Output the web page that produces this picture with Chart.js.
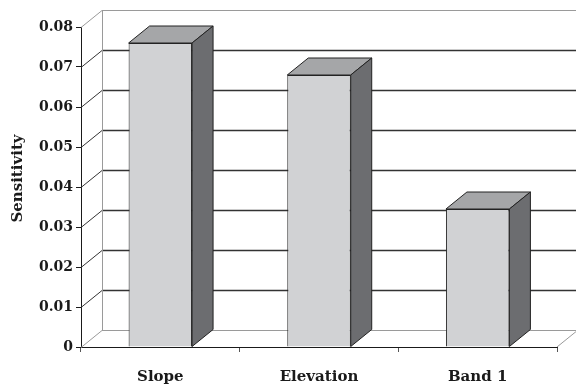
<!DOCTYPE html>
<html>
<head>
<meta charset="utf-8">
<script src="https://cdn.jsdelivr.net/npm/chart.js@4"></script>
<style>
  html, body { margin: 0; padding: 0; background: #fff; }
</style>
</head>
<body>
<canvas id="chart" width="576" height="386"></canvas>
<script>
const categories = ['Slope', 'Elevation', 'Band 1'];
const sensitivity = [0.076, 0.068, 0.0345];
const yTickLabels = ['0', '0.01', '0.02', '0.03', '0.04', '0.05', '0.06', '0.07', '0.08'];
const yAxisTitle = 'Sensitivity';

// depth of the 3D box: how far the back wall is shifted right / up
const DEPTH_X = 21;
const DEPTH_Y = 17;

const FONT = 'DejaVu Serif';

function line(ctx, x1, y1, x2, y2) {
    ctx.beginPath();
    ctx.moveTo(x1, y1);
    ctx.lineTo(x2, y2);
    ctx.stroke();
}

// walls, floor and back gridlines, drawn under the bars
const box3d = {
    id: 'box3d',
    beforeDatasetsDraw(chart) {
        const { ctx, chartArea: a, scales: { y } } = chart;
        const backL = a.left + DEPTH_X;
        const backR = a.right + DEPTH_X;
        ctx.save();
        y.ticks.forEach((t, i) => {
            const py = Math.round(y.getPixelForValue(t.value)) + 0.5;
            const edge = i === 0 || i === y.ticks.length - 1;
            ctx.strokeStyle = edge ? '#9a9a9a' : '#333';
            ctx.lineWidth = edge ? 1 : 1.3;
            line(ctx, backL, py - DEPTH_Y, backR, py - DEPTH_Y);
            ctx.lineWidth = 1;
            line(ctx, a.left, py, backL, py - DEPTH_Y);
        });
        ctx.strokeStyle = '#9a9a9a';
        line(ctx, backL + 0.5, a.top - DEPTH_Y, backL + 0.5, a.bottom - DEPTH_Y);
        line(ctx, a.right, a.bottom, backR, a.bottom - DEPTH_Y);
        ctx.restore();
    },
    // top and side faces of every bar, then the y axis title
    afterDatasetsDraw(chart) {
        const { ctx } = chart;
        const meta = chart.getDatasetMeta(0);
        ctx.save();
        ctx.lineWidth = 1;
        ctx.strokeStyle = '#222';
        ctx.lineJoin = 'round';
        meta.data.forEach(bar => {
            const { x, y, width, base } = bar.getProps(['x', 'y', 'width', 'base'], true);
            const l = x - width / 2;
            const r = x + width / 2;
            ctx.fillStyle = '#a5a6a8';
            ctx.beginPath();
            ctx.moveTo(l, y);
            ctx.lineTo(l + DEPTH_X, y - DEPTH_Y);
            ctx.lineTo(r + DEPTH_X, y - DEPTH_Y);
            ctx.lineTo(r, y);
            ctx.closePath();
            ctx.fill();
            ctx.stroke();
            ctx.fillStyle = '#6c6d70';
            ctx.beginPath();
            ctx.moveTo(r, y);
            ctx.lineTo(r + DEPTH_X, y - DEPTH_Y);
            ctx.lineTo(r + DEPTH_X, base - DEPTH_Y);
            ctx.lineTo(r, base);
            ctx.closePath();
            ctx.fill();
            ctx.stroke();
        });
        const a = chart.chartArea;
        ctx.translate(18, (a.top - DEPTH_Y + a.bottom) / 2);
        ctx.rotate(-Math.PI / 2);
        ctx.fillStyle = '#1a1a1a';
        ctx.font = `bold 15px "${FONT}"`;
        ctx.textAlign = 'center';
        ctx.textBaseline = 'middle';
        ctx.fillText(yAxisTitle, 0, 0);
        ctx.restore();
    }
};

new Chart(document.getElementById('chart'), {
    type: 'bar',
    data: {
        labels: categories,
        datasets: [{
            data: sensitivity,
            backgroundColor: '#d1d2d4',
            borderColor: '#222',
            borderWidth: 1,
            categoryPercentage: 1,
            barPercentage: 0.4
        }]
    },
    options: {
        responsive: false,
        animation: false,
        layout: { padding: { top: 27, right: 19, left: 0, bottom: 0 } },
        plugins: { legend: { display: false }, tooltip: { enabled: false } },
        scales: {
            x: {
                afterFit(scale) { scale.height = 39; },
                grid: { drawOnChartArea: false, drawTicks: true, tickLength: 5, color: '#555' },
                border: { display: true, color: '#1a1a1a', width: 1 },
                ticks: {
                    color: '#1a1a1a',
                    padding: 16,
                    font: { family: FONT, size: 15, weight: 'bold' }
                }
            },
            y: {
                min: 0,
                max: 0.08,
                afterFit(scale) { scale.width = 81; },
                grid: { drawOnChartArea: false, drawTicks: true, tickLength: 5, color: '#1a1a1a' },
                border: { display: true, color: '#1a1a1a', width: 1 },
                ticks: {
                    stepSize: 0.01,
                    color: '#1a1a1a',
                    padding: 3,
                    font: { family: FONT, size: 14, weight: 'bold' },
                    callback: (v, i) => yTickLabels[i]
                }
            }
        }
    },
    plugins: [box3d]
});
</script>
</body>
</html>
